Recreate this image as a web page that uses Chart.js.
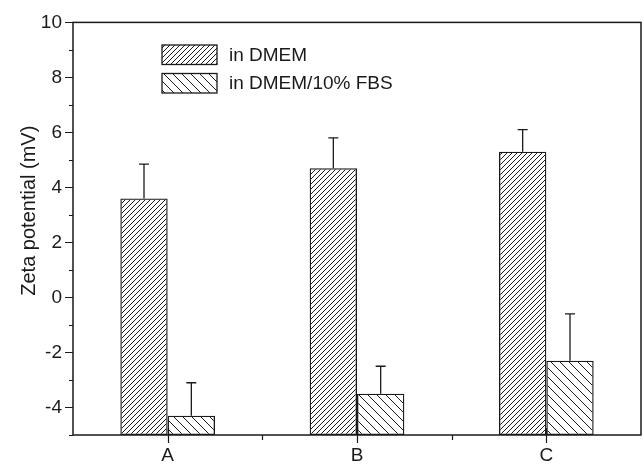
<!DOCTYPE html>
<html lang="en">
<head>
    <meta charset="UTF-8">
    <title>Zeta potential</title>
    <style>
        html, body { margin: 0; padding: 0; background: #fff; }
        #wrap { width: 644px; height: 464px; position: relative; }
    </style>
</head>
<body>
    <div id="wrap"><canvas id="myChart"></canvas></div>

    <script src="https://cdn.jsdelivr.net/npm/chart.js"></script>
    <script>

const categories = ['A', 'B', 'C'];
const seriesNames = ['in DMEM', 'in DMEM/10% FBS'];
const dmemValues = [3.6, 4.7, 5.3];
const dmemErrors = [1.25, 1.1, 0.8];
const fbsValues = [-4.3, -3.5, -2.3];
const fbsErrors = [1.2, 1.0, 1.7];
const yMin = -5, yMax = 10;
const yTitle = 'Zeta potential (mV)';

const ink = '#1a1a1a';
const fontFamily = '"Liberation Sans", Arial, sans-serif';

const canvas = document.getElementById('myChart');
const mainCtx = canvas.getContext('2d');

// diagonal hatch pattern, dir 1 = "/", dir -1 = "\"
function hatch(step, dir) {
    const tile = document.createElement('canvas');
    tile.width = step;
    tile.height = step;
    const g = tile.getContext('2d');
    g.strokeStyle = ink;
    g.lineWidth = 1;
    g.beginPath();
    if (dir > 0) {
        g.moveTo(0, step); g.lineTo(step, 0);
        g.moveTo(-1, 1); g.lineTo(1, -1);
        g.moveTo(step - 1, step + 1); g.lineTo(step + 1, step - 1);
    } else {
        g.moveTo(0, 0); g.lineTo(step, step);
        g.moveTo(step - 1, -1); g.lineTo(step + 1, 1);
        g.moveTo(-1, step - 1); g.lineTo(1, step + 1);
    }
    g.stroke();
    return mainCtx.createPattern(tile, 'repeat');
}

const fills = [hatch(5, 1), hatch(9, -1)];
const errors = [dmemErrors, fbsErrors];

// frame, ticks, error bars, legend and y title
const decor = {
    id: 'decor',
    afterDatasetsDraw(chart) {
        const ctx = chart.ctx;
        const area = chart.chartArea;
        const xs = chart.scales.x;
        const ys = chart.scales.y;
        ctx.save();
        ctx.strokeStyle = ink;
        ctx.fillStyle = ink;

        // error bars (upper only)
        ctx.lineWidth = 1.3;
        chart.data.datasets.forEach((ds, i) => {
            const meta = chart.getDatasetMeta(i);
            meta.data.forEach((bar, j) => {
                const top = ys.getPixelForValue(ds.data[j] + errors[i][j]);
                ctx.beginPath();
                ctx.moveTo(bar.x, bar.y);
                ctx.lineTo(bar.x, top);
                ctx.moveTo(bar.x - 5, top);
                ctx.lineTo(bar.x + 5, top);
                ctx.stroke();
            });
        });

        // frame
        ctx.lineWidth = 1.5;
        ctx.strokeRect(area.left, area.top, area.right - area.left, area.bottom - area.top);

        // y ticks
        ctx.lineWidth = 1.2;
        ctx.beginPath();
        for (let v = yMin; v <= yMax; v++) {
            const py = Math.round(ys.getPixelForValue(v)) + 0.5;
            const len = v % 2 === 0 ? 8 : 4;
            ctx.moveTo(area.left - len, py);
            ctx.lineTo(area.left, py);
        }
        // x ticks
        categories.forEach((c, i) => {
            const px = Math.round(xs.getPixelForValue(i)) + 0.5;
            ctx.moveTo(px, area.bottom - 7);
            ctx.lineTo(px, area.bottom + 8);
            if (i < categories.length - 1) {
                const mx = Math.round(xs.getPixelForValue(i + 0.5)) + 0.5;
                ctx.moveTo(mx, area.bottom);
                ctx.lineTo(mx, area.bottom + 5);
            }
        });
        ctx.stroke();

        // legend
        ctx.font = '19px ' + fontFamily;
        ctx.textBaseline = 'middle';
        ctx.textAlign = 'left';
        seriesNames.forEach((name, i) => {
            const bx = area.left + 89, by = 45 + i * 28.5, bw = 55, bh = 19.5;
            ctx.fillStyle = fills[i];
            ctx.fillRect(bx, by, bw, bh);
            ctx.lineWidth = 1.3;
            ctx.strokeRect(bx, by, bw, bh);
            ctx.fillStyle = ink;
            ctx.fillText(name, bx + bw + 12, by + bh / 2 + 1);
        });

        // y title
        ctx.font = '20px ' + fontFamily;
        ctx.translate(35, (area.top + area.bottom) / 2 - 18);
        ctx.rotate(-Math.PI / 2);
        ctx.textAlign = 'center';
        ctx.textBaseline = 'alphabetic';
        ctx.fillText(yTitle, 0, 0);
        ctx.restore();
    }
};

new Chart(mainCtx, {
    type: 'bar',
    data: {
        labels: categories,
        datasets: [
            { label: seriesNames[0], data: dmemValues, backgroundColor: fills[0] },
            { label: seriesNames[1], data: fbsValues, backgroundColor: fills[1] }
        ]
    },
    options: {
        responsive: true,
        maintainAspectRatio: false,
        animation: false,
        layout: { padding: { top: 20, right: 3, left: 0, bottom: 0 } },
        datasets: {
            bar: {
                base: yMin,
                borderColor: ink,
                borderWidth: 1.3,
                borderSkipped: false,
                categoryPercentage: 0.5,
                barPercentage: 1
            }
        },
        plugins: {
            legend: { display: false },
            tooltip: { enabled: false }
        },
        scales: {
            x: {
                grid: { display: false, drawTicks: false },
                border: { display: false },
                ticks: { color: ink, padding: 9, font: { family: fontFamily, size: 19 } },
                afterFit: s => { s.height = 29; }
            },
            y: {
                min: yMin,
                max: yMax,
                grid: { display: false, drawTicks: false },
                border: { display: false },
                ticks: {
                    stepSize: 1,
                    autoSkip: false,
                    color: ink,
                    padding: 11,
                    font: { family: fontFamily, size: 19 },
                    callback: v => (v % 2 === 0 ? v : '')
                },
                afterFit: s => { s.width = 73; }
            }
        }
    },
    plugins: [decor]
});

    </script>
</body>
</html>
